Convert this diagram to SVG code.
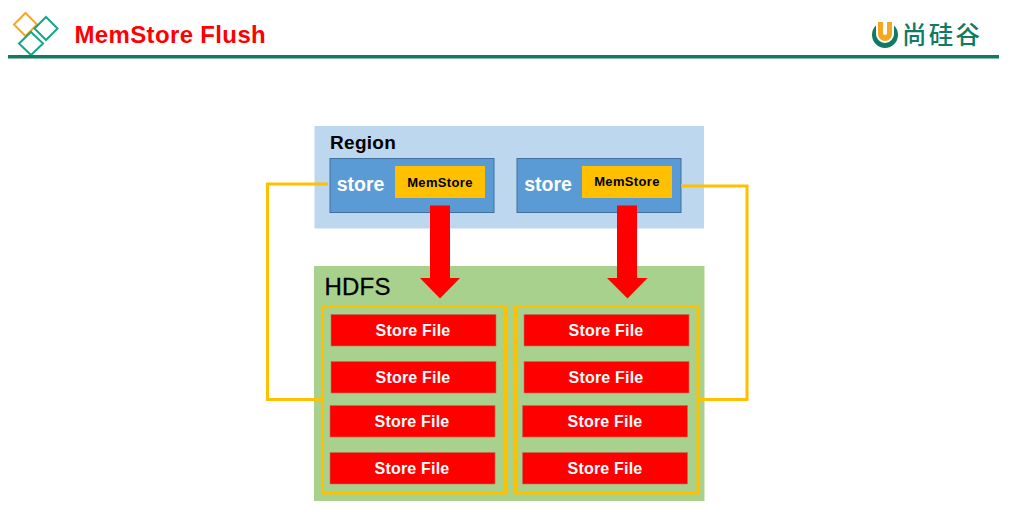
<svg xmlns="http://www.w3.org/2000/svg" width="1021" height="523" viewBox="0 0 1021 523">
<style>
text{font-family:"Liberation Sans",Arial,sans-serif}
.file rect{fill:#ff0000;stroke:#c0705a;stroke-width:.6}
.file text{fill:#fff;font-size:16px;font-weight:700;text-anchor:middle;letter-spacing:.2px}
.store{fill:#5b9bd5;stroke:#41719c;stroke-width:1}
.st{fill:#fff;font-size:19.500px;font-weight:700;text-anchor:middle}
.mem{fill:#ffc000}
.mt{fill:#000;font-size:13px;font-weight:700;text-anchor:middle;letter-spacing:.35px}
.gold{fill:none;stroke:#ffc000;stroke-width:3}
.arrow{fill:#ff0000}
</style>
<rect width="1021" height="523" fill="#fff"/>
<g id="header">
<g fill="none" stroke-width="2">
<path d="M25.500 13 L37 24.500 L25.500 36 L14 24.500Z" stroke="#f5a623"/>
<path d="M46 17 L57.500 28.500 L46 40 L34.500 28.500Z" stroke="#17a589"/>
<path d="M31 32 L43 43.500 L31 55 L19 43.500Z" stroke="#17a589"/>
</g>
<text x="74.500" y="43" font-size="24" font-weight="700" letter-spacing=".35" fill="#ff0000">MemStore Flush</text>
<rect x="8" y="55" width="991" height="3.500" fill="#0f7b63"/>
</g>
<g id="logo">
<path d="M876 25.600 A13 13 0 1 0 894 25.600 L894 34 A9 9 0 0 1 876 34Z" fill="#0f7b63"/>
<path d="M878 22 H883 V33 A2 2 0 0 0 887 33 V22 H892 V34 A7 7 0 0 1 878 34Z" fill="#f5a623"/>
<text x="902" y="44" font-size="24.500" font-weight="500" fill="#0f7b63" style="font-family:'Noto Sans CJK SC','Liberation Sans',sans-serif" textLength="78">尚硅谷</text>
</g>
<g id="region">
<rect x="314.500" y="126" width="389.500" height="102.500" fill="#bdd7ee"/>
<text x="330" y="149" font-size="19" font-weight="700" letter-spacing=".3">Region</text>
</g>
<g id="hdfs">
<rect x="314" y="266" width="390.500" height="235" fill="#a9d18e"/>
<text x="324.500" y="295" font-size="24" letter-spacing=".2" stroke="#000" stroke-width=".3">HDFS</text>
</g>
<g id="store-left">
<rect class="store" x="330" y="158.500" width="164" height="54"/>
<text class="st" x="360.500" y="191">store</text>
<rect class="mem" x="395" y="166" width="90" height="32"/>
<text class="mt" x="440" y="187">MemStore</text>
</g>
<g id="store-right">
<rect class="store" x="517" y="158.500" width="164" height="54"/>
<text class="st" x="548" y="191">store</text>
<rect class="mem" x="582" y="166" width="90" height="32"/>
<text class="mt" x="627" y="186">MemStore</text>
</g>
<g id="connectors">
<path class="gold" d="M328 184 H267.500 V399.500 H322"/>
<path class="gold" d="M681 186 H747 V399.500 H698"/>
<path class="arrow" d="M430 205.500 H450 V278 H460 L440 298.500 L420 278 H430Z"/>
<path class="arrow" d="M617 205.500 H637 V278 H647.500 L627.500 298.500 L607 278 H617Z"/>
</g>
<g id="hdfs-group-left"><rect class="gold" x="322.500" y="306.500" width="183" height="186.500"/></g>
<g id="hdfs-group-right"><rect class="gold" x="515.500" y="306.500" width="182.500" height="186.500"/></g>
<g id="file-l1" class="file"><rect x="331" y="314.500" width="165" height="31.500"/><text x="413" y="336">Store File</text></g>
<g id="file-l2" class="file"><rect x="331" y="361.500" width="165" height="31.500"/><text x="413" y="383">Store File</text></g>
<g id="file-l3" class="file"><rect x="330" y="405.500" width="165" height="31.500"/><text x="412" y="427">Store File</text></g>
<g id="file-l4" class="file"><rect x="330" y="452.500" width="165" height="31.500"/><text x="412" y="474">Store File</text></g>
<g id="file-r1" class="file"><rect x="524" y="314.500" width="165" height="31.500"/><text x="606" y="336">Store File</text></g>
<g id="file-r2" class="file"><rect x="524" y="361.500" width="165" height="31.500"/><text x="606" y="383">Store File</text></g>
<g id="file-r3" class="file"><rect x="522.500" y="405.500" width="165" height="31.500"/><text x="605" y="427">Store File</text></g>
<g id="file-r4" class="file"><rect x="522.500" y="452.500" width="165" height="31.500"/><text x="605" y="474">Store File</text></g>
</svg>
